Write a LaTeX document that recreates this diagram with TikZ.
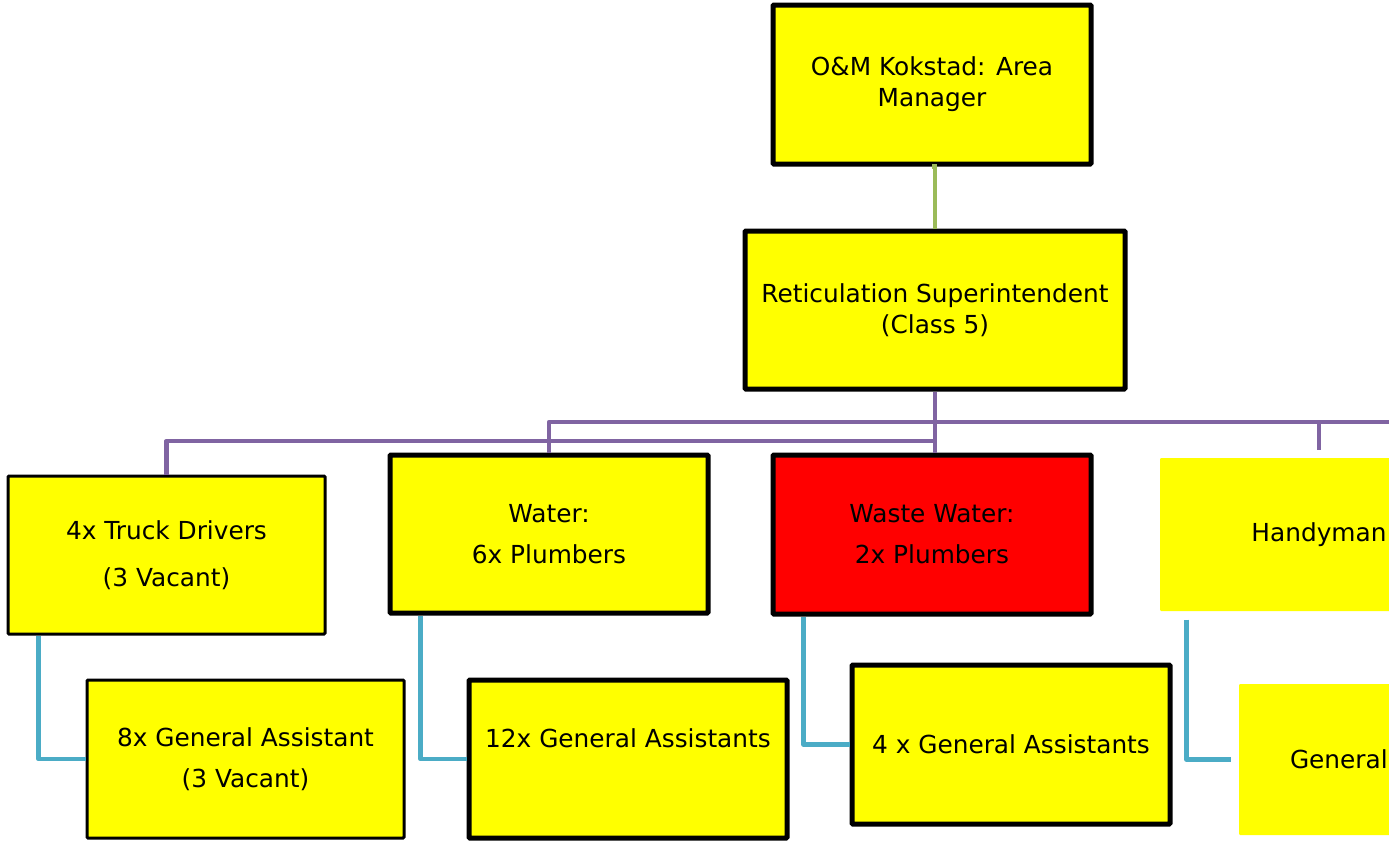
\documentclass[tikz,border=0pt]{standalone}
\usepackage{fontspec}
\setmainfont{DejaVu Sans}
\definecolor{boxyellow}{RGB}{255,255,0}
\definecolor{boxred}{RGB}{255,0,0}
\definecolor{lnkgreen}{RGB}{155,187,89}
\definecolor{lnkpurple}{RGB}{128,100,162}
\definecolor{lnkcyan}{RGB}{75,172,198}
\begin{document}
\begin{tikzpicture}[x=0.5pt, y=-0.5pt,
		post/.style={draw=black, line width=2.5pt, fill=boxyellow, rounded corners=0.5pt, align=center, inner sep=0pt, font=\fontsize{12.4}{15.5}\selectfont},
		thinpost/.style={post, line width=1.5pt},
		openpost/.style={post, draw=none},
		boss/.style={line width=2.2pt, draw=lnkgreen},
		team/.style={line width=2.4pt, draw=lnkpurple, line join=round},
		crew/.style={line width=2.2pt, draw=lnkcyan, line join=round}]
		\clip (0,0) rectangle (1389,841);
		% top of the tree
		\node[post, minimum width=159pt, minimum height=79.5pt] (area) at (932,84.5) {O\&M Kokstad: Area\\Manager};
		\node[post, minimum width=190pt, minimum height=79pt] (super) at (935,310) {Reticulation Superintendent\\(Class 5)};
		% sections
		\node[thinpost, minimum width=158.5pt, minimum height=79pt] (trucks) at (166.5,555) {4x Truck Drivers\\[8pt](3 Vacant)};
		\node[post, minimum width=159pt, minimum height=79pt] (water) at (549,534) {Water:\\[5pt]6x Plumbers};
		\node[post, fill=boxred, minimum width=159pt, minimum height=79.5pt] (waste) at (932,534.5) {Waste Water:\\[5pt]2x Plumbers};
		\node[openpost, minimum width=159pt, minimum height=76.5pt] (handy) at (1319,534.5) {Handyman};
		% assistants
		\node[thinpost, minimum width=158.5pt, minimum height=79pt] (ga8) at (245.5,759) {8x General Assistant\\[5pt](3 Vacant)};
		\node[post, minimum width=159pt, minimum height=79pt] (ga12) at (628,759) {12x General Assistants\\[5pt]\mbox{}};
		\node[post, minimum width=159pt, minimum height=79.5pt] (ga4) at (1011,744.5) {4 x General Assistants};
		\node[openpost, text width=108pt, inner xsep=25.5pt, align=left, minimum height=75.5pt] (gagen) at (1398,759.5) {General};
		% links
		\coordinate (topbus) at (0,422);
		\coordinate (lowbus) at (0,441);
		\coordinate (busend) at (1400,422);
		\draw[boss] (area.south) -- (super.south |- area.south) -- (super.north);
		\draw[team] (super.south) -- (super.south |- waste.north);
		\draw[team] (water.north) |- (busend);
		\draw[team] (trucks.north) |- (super.south |- lowbus);
		\draw[team, shorten <=3pt] (handy.north) -- (handy.north |- topbus);
		\draw[crew] (trucks.south west) ++(32,0) |- (ga8.west);
		\draw[crew] (water.south west) ++(33,0) |- (ga12.west);
		\draw[crew] (waste.south west) ++(33,0) |- (ga4.west);
		\draw[crew, shorten >=3pt] (handy.south west) ++(29,6) |- (gagen.west);
	\end{tikzpicture}
\end{document}
